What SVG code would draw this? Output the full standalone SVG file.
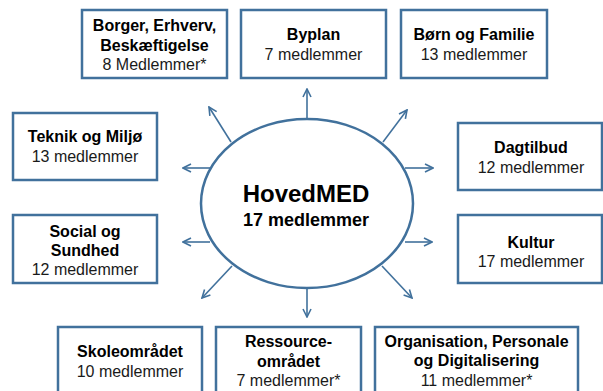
<svg xmlns="http://www.w3.org/2000/svg" width="603" height="391" viewBox="0 0 603 391">
<style>
.box{fill:#fff;stroke:#41719c;stroke-width:2.5}
.t{font-family:"Liberation Sans",Arial,sans-serif;font-size:16px;text-anchor:middle;fill:#1a1a1a}
.b{font-weight:bold;fill:#000}
.h1{font-size:24px}
.h2{font-size:18px}
.c{stroke:#41719c;stroke-width:1.6;fill:none;marker-end:url(#ah)}
</style>
<defs>
<marker id="ah" viewBox="0 0 10 10" refX="9" refY="5" markerWidth="10" markerHeight="10" markerUnits="userSpaceOnUse" orient="auto">
<polyline points="1,1 9,5 1,9" fill="none" stroke="#41719c" stroke-width="1.6"/>
</marker>
</defs>
<rect width="603" height="391" fill="#fff"/>
<g id="connectors">
<line class="c" x1="307" y1="119" x2="307" y2="89"/>
<line class="c" x1="383" y1="142" x2="407" y2="110"/>
<line class="c" x1="405" y1="168" x2="433" y2="168"/>
<line class="c" x1="405" y1="242" x2="432" y2="242"/>
<line class="c" x1="382" y1="266" x2="412" y2="298"/>
<line class="c" x1="307" y1="288" x2="307" y2="317"/>
<line class="c" x1="232" y1="266" x2="202" y2="298"/>
<line class="c" x1="210" y1="242" x2="183" y2="242"/>
<line class="c" x1="210" y1="168" x2="183" y2="168"/>
<line class="c" x1="231" y1="142" x2="209" y2="107"/>
</g>
<g id="hovedmed">
<ellipse cx="307" cy="203.5" rx="106" ry="84.5" fill="#fff" stroke="#41719c" stroke-width="2.5"/>
<text class="t b h1" x="306" y="202">HovedMED</text>
<text class="t b h2" x="306" y="226">17 medlemmer</text>
</g>
<g id="borger">
<rect class="box" x="82" y="10" width="145" height="68"/>
<text class="t b" x="154.5" y="31">Borger, Erhverv,</text>
<text class="t b" x="154.5" y="51">Beskæftigelse</text>
<text class="t" x="154.5" y="70">8 Medlemmer*</text>
</g>
<g id="byplan">
<rect class="box" x="241" y="10" width="145" height="68"/>
<text class="t b" x="313.5" y="40">Byplan</text>
<text class="t" x="313.5" y="60">7 medlemmer</text>
</g>
<g id="born">
<rect class="box" x="401" y="10" width="146" height="68"/>
<text class="t b" x="474" y="40">Børn og Familie</text>
<text class="t" x="474" y="60">13 medlemmer</text>
</g>
<g id="teknik">
<rect class="box" x="13" y="113" width="144" height="67"/>
<text class="t b" x="85" y="142">Teknik og Miljø</text>
<text class="t" x="85" y="162">13 medlemmer</text>
</g>
<g id="dagtilbud">
<rect class="box" x="458" y="123" width="144" height="67"/>
<text class="t b" x="531" y="153">Dagtilbud</text>
<text class="t" x="531" y="173">12 medlemmer</text>
</g>
<g id="social">
<rect class="box" x="13" y="215" width="144" height="68"/>
<text class="t b" x="85" y="237">Social og</text>
<text class="t b" x="85" y="256">Sundhed</text>
<text class="t" x="85" y="275">12 medlemmer</text>
</g>
<g id="kultur">
<rect class="box" x="458" y="215" width="144" height="68"/>
<text class="t b" x="531" y="248">Kultur</text>
<text class="t" x="531" y="267">17 medlemmer</text>
</g>
<g id="skole">
<rect class="box" x="58" y="327" width="144" height="70"/>
<text class="t b" x="130" y="357">Skoleområdet</text>
<text class="t" x="130" y="377">10 medlemmer</text>
</g>
<g id="ressource">
<rect class="box" x="216" y="327" width="145" height="70"/>
<text class="t b" x="288.5" y="347">Ressource-</text>
<text class="t b" x="288.5" y="367">området</text>
<text class="t" x="288.5" y="386">7 medlemmer*</text>
</g>
<g id="organisation">
<rect class="box" x="375" y="327" width="203" height="70"/>
<text class="t b" x="476.5" y="347">Organisation, Personale</text>
<text class="t b" x="476.5" y="366">og Digitalisering</text>
<text class="t" x="476.5" y="386">11 medlemmer*</text>
</g>
</svg>
